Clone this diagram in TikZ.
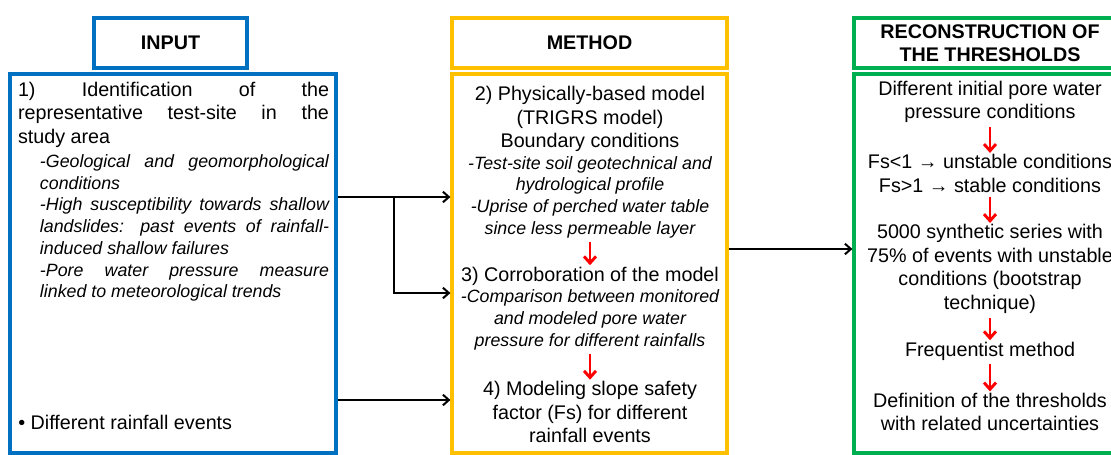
\documentclass[tikz,border=0pt]{standalone}
\usepackage{fontspec}
\setmainfont{Liberation Sans}
\usetikzlibrary{arrows.meta,positioning}

\definecolor{inblue}{RGB}{0,112,192}
\definecolor{methyellow}{RGB}{255,192,0}
\definecolor{recgreen}{RGB}{0,176,80}
\newcommand{\bodyfont}{\fontsize{14.8}{17.6}\selectfont}
\newcommand{\notefont}{\fontsize{13.35}{16.3}\selectfont\itshape}

\begin{document}
\begin{tikzpicture}[
  x=0.75pt, y=-0.75pt,
  >={Straight Barb[length=4.5pt,width=8pt]},
  head/.style={draw, line width=2.4pt, minimum height=37.5pt, inner sep=0pt,
               align=center, font=\bodyfont\bfseries},
  panel/.style={draw, line width=2.4pt, minimum height=284.25pt, inner sep=0pt},
  body/.style={inner sep=0pt, align=center, font=\bodyfont},
  note/.style={inner sep=0pt, align=center, font=\notefont},
  flow/.style={->, line width=1.5pt},
  redflow/.style={-{Straight Barb[length=5pt,width=9pt]}, red, line width=2.2pt,
                  shorten <=3pt, shorten >=1pt}
]
\useasboundingbox (0,0) rectangle (1111,454);

\node[panel, draw=inblue, minimum width=244.5pt] (inbox) at (173,263.5) {};
\node[panel, draw=methyellow, minimum width=206.25pt] (mbox) at (589.5,263.5) {};
\node[panel, draw=recgreen, minimum width=204pt] (gbox) at (990,263.5) {};

\node[head, draw=inblue, minimum width=114.75pt, above=2.1pt of inbox, xshift=-1.9pt] (inhead) {INPUT};
\node[head, draw=methyellow, minimum width=206.25pt, above=2.1pt of mbox] (mhead) {METHOD};
\node[head, draw=recgreen, minimum width=204pt, above=2.1pt of gbox] (ghead) {RECONSTRUCTION OF\\THE THRESHOLDS};

\node[body, text width=233.25pt, align=justify] (in1) at (173.5,114.5)
  {1) Identification of the\linebreak representative test-site in the\linebreak study area};
\node[note, text width=216.75pt, align=justify] (in2) at (184.5,228)
  {-Geological and geomorphological\linebreak conditions\\
   -High susceptibility towards shallow\linebreak landslides: past events of rainfall-\linebreak induced shallow failures\\
   -Pore water pressure measure\linebreak linked to meteorological trends};
\node[body, anchor=west] (in3) at (18,422) {• Different rainfall events};

\node[body] (m2a) at (590,119) {2) Physically-based model\\(TRIGRS model)\\Boundary conditions};
\node[note] (m2b) at (590,197) {-Test-site soil geotechnical and\\hydrological profile\\-Uprise of perched water table\\since less permeable layer};
\node[body] (m3a) at (590,276) {3) Corroboration of the model};
\node[note] (m3b) at (590,320) {-Comparison between monitored\\and modeled pore water\\pressure for different rainfalls};
\node[body] (m4) at (590,412) {4) Modeling slope safety\\factor (Fs) for different\\rainfall events};

\node[body] (g1) at (990,102) {Different initial pore water\\pressure conditions};
\node[body] (g2) at (990,173.5) {Fs<1 → unstable conditions\\Fs>1 → stable conditions};
\node[body] (g3) at (990,269) {5000 synthetic series with\\75\% of events with unstable\\conditions (bootstrap\\technique)};
\node[body] (g4) at (990,351) {Frequentist method};
\node[body] (g5) at (990,412) {Definition of the thresholds\\with related uncertainties};

\coordinate (fork) at (394,197);
\coordinate (lvl3) at (0,293);
\coordinate (lvl4) at (0,400);
\coordinate (lvlout) at (0,249);

\draw[flow] (inbox.east |- fork) -- (mbox.west |- fork);
\draw[flow] (fork) |- (mbox.west |- lvl3);
\draw[flow] (inbox.east |- lvl4) -- (mbox.west |- lvl4);
\draw[flow] (mbox.east |- lvlout) -- (gbox.west |- lvlout);

\draw[redflow] (m2b.south) -- (m3a.north);
\draw[redflow] (m3b.south) -- (m4.north);
\draw[redflow] (g1.south) -- (g2.north);
\draw[redflow] (g2.south) -- (g3.north);
\draw[redflow] (g3.south) -- (g4.north);
\draw[redflow] (g4.south) -- (g5.north);

\end{tikzpicture}
\end{document}
